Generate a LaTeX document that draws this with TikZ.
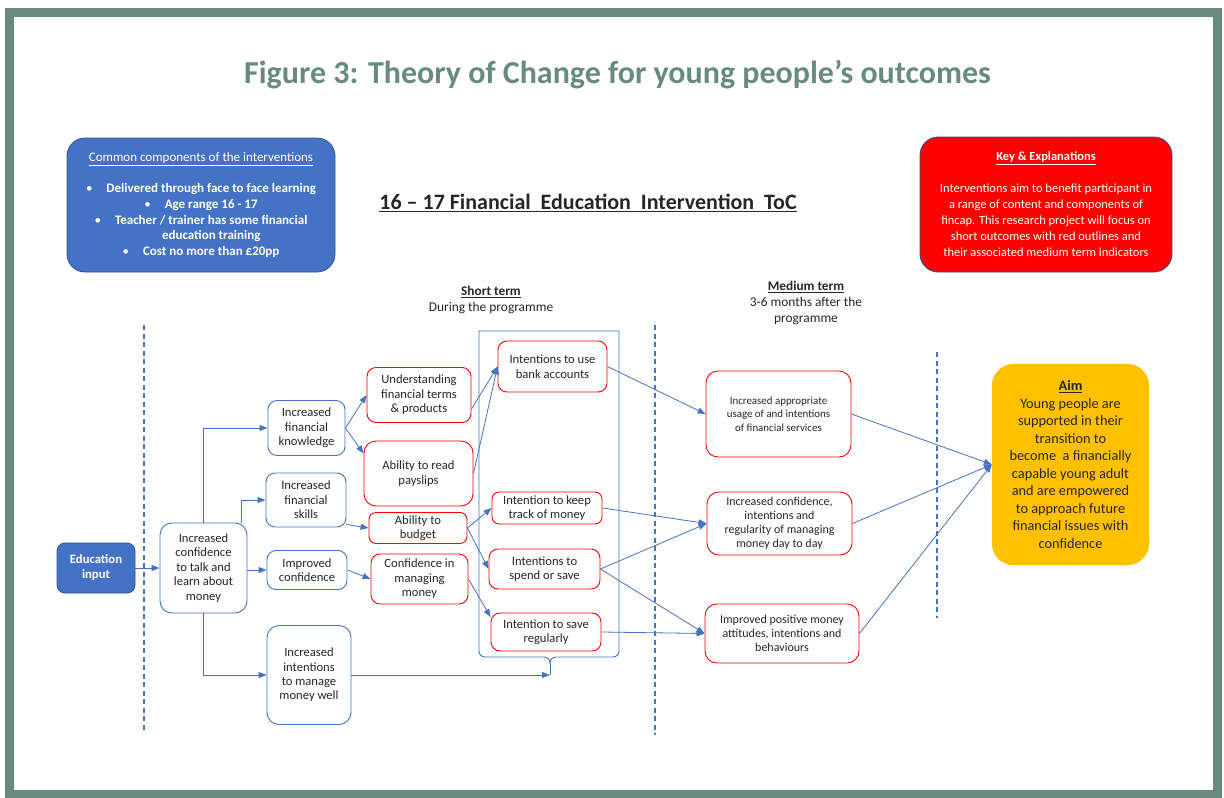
\documentclass[tikz,border=0pt]{standalone}
\usepackage{fontspec}
\setmainfont{Carlito}
\usetikzlibrary{arrows.meta}
\definecolor{tblue}{HTML}{4472C4}
\definecolor{tdark}{HTML}{2F528F}
\definecolor{tred}{HTML}{FF0000}
\definecolor{tgold}{HTML}{FFC000}
\definecolor{tgreen}{HTML}{688B7D}
\definecolor{ttext}{HTML}{262626}
\tikzset{
  lbox/.style={draw=tblue, line width=0.9pt, rounded corners=9pt, fill=white, align=center, text=ttext, inner sep=1pt, font=\fontsize{12.6}{14.4}\selectfont},
  rbox/.style={lbox, draw=tred},
  mbox/.style={rbox, rounded corners=12pt},
  flow/.style={tblue, line width=0.8pt, -{Triangle[length=8pt,width=6pt]}},
  sepline/.style={tblue, line width=2.2pt, dash pattern=on 5pt off 3.5pt},
  hdr/.style={font=\fontsize{13.3}{15}\selectfont\bfseries, text=ttext},
  sub/.style={font=\fontsize{13.4}{15.8}\selectfont, text=ttext, align=center},
}
\begin{document}
\begin{tikzpicture}[x=1pt,y=-1pt]
\useasboundingbox (0,0) rectangle (1224,798);
\draw[tgreen, line width=9pt] (9.5,12.5) rectangle (1217,794);
\node[text=tgreen, font=\fontsize{32}{36}\selectfont\bfseries] (title) at (617.5,75) {Figure 3: Theory of Change for young people’s outcomes};
\node[font=\fontsize{22}{26}\selectfont\bfseries, text=ttext] (toc) at (588,203) {\underline{16 – 17 Financial\ \ Education\ \ Intervention\ \ ToC}};
% top boxes
\node[draw=tdark, fill=tblue, rounded corners=18pt, line width=0.8pt, minimum width=268pt, minimum height=134pt, text=white, align=center, font=\fontsize{13}{15.7}\selectfont] (common) at (201,205)
  {\underline{Common components of the interventions}\\[15.7pt]
   •\hspace{14pt}\textbf{Delivered through face to face learning}\\
   •\hspace{14pt}\textbf{Age range 16 - 17}\\
   •\hspace{14pt}\textbf{Teacher / trainer has some financial}\\
   \hphantom{•\hspace{14pt}}\textbf{education training}\\
   •\hspace{14pt}\textbf{Cost no more than £20pp}};
\node[draw=tdark, fill=tred, rounded corners=18pt, line width=0.8pt, minimum width=252pt, minimum height=135pt, text=white, align=center, font=\fontsize{12.5}{16}\selectfont] (key) at (1046,204.5)
  {\textbf{\underline{Key \& Explanations}}\\[16pt]
   Interventions aim to benefit participant in\\
   a range of content and components of\\
   fincap. This research project will focus on\\
   short outcomes with red outlines and\\
   their associated medium term indicators};
% time labels
\node[hdr] (shortlbl) at (491,292) {\underline{Short term}};
\node[sub] (shortsub) at (491,308) {During the programme};
\node[hdr] (medlbl) at (806,287) {\underline{Medium term}};
\node[sub] (medsub) at (806,311) {3-6 months after the\\programme};
% separators
\draw[sepline] (144,325) -- (144,732);
\draw[sepline] (655,325) -- (655,735);
\draw[sepline] (937,352) -- (937,618);
% bracket round the short term intentions
\coordinate (bracetip) at (550,675);
\draw[tblue, line width=0.9pt] (479,331) -- (619,331) -- (619,651) to[out=-90,in=0] (613,657) -- (556,657) to[out=180,in=90] (550,663) to[out=90,in=0] (544,657) -- (485,657) to[out=180,in=-90] (479,651) -- cycle;
\draw[tblue, line width=0.9pt] (550,663) -- (bracetip);
% nodes
\node[draw=tdark, fill=tblue, rounded corners=8pt, line width=0.8pt, minimum width=78pt, minimum height=50pt, text=white, align=center, font=\fontsize{12.7}{15}\selectfont\bfseries] (edu) at (96,568) {Education\\input};
\node[lbox, minimum width=87pt, minimum height=90pt, rounded corners=12pt] (conf) at (203.5,568) {Increased\\confidence\\to talk and\\learn about\\money};
\node[lbox, minimum width=77pt, minimum height=55pt] (know) at (306.5,428) {Increased\\financial\\knowledge};
\node[lbox, minimum width=80pt, minimum height=54pt] (skills) at (306,500) {Increased\\financial\\skills};
\node[lbox, minimum width=80pt, minimum height=39pt] (impconf) at (307,570) {Improved\\confidence};
\node[lbox, minimum width=84pt, minimum height=99pt, rounded corners=12pt] (manage) at (309,675) {Increased\\intentions\\to manage\\money well};
\node[rbox, minimum width=104pt, minimum height=55pt] (underst) at (419,395) {Understanding\\financial terms\\\& products};
\node[rbox, minimum width=109pt, minimum height=65pt, rounded corners=12pt] (payslips) at (418.5,473.5) {Ability to read\\payslips};
\node[rbox, minimum width=98pt, minimum height=31pt, rounded corners=7pt] (budget) at (418,528) {Ability to\\budget};
\node[rbox, minimum width=97pt, minimum height=50pt] (confmng) at (419.5,579) {Confidence in\\managing\\money};
\node[rbox, minimum width=109pt, minimum height=51pt] (bank) at (552.5,366.5) {Intentions to use\\bank accounts};
\node[rbox, minimum width=110pt, minimum height=32pt, rounded corners=7pt] (track) at (547,508) {Intention to keep\\track of money};
\node[rbox, minimum width=111pt, minimum height=40pt] (spend) at (544.5,569) {Intentions to\\spend or save};
\node[rbox, minimum width=110pt, minimum height=38pt] (save) at (546,632) {Intention to save\\regularly};
\node[mbox, minimum width=145pt, minimum height=86pt, font=\fontsize{10.9}{13.3}\selectfont] (usage) at (778.5,414) {Increased appropriate\\usage of and intentions\\of financial services};
\node[mbox, minimum width=145pt, minimum height=63pt, font=\fontsize{12}{14}\selectfont] (mconf) at (779.5,523.5) {Increased confidence,\\intentions and\\regularity of managing\\money day to day};
\node[mbox, minimum width=154pt, minimum height=59pt, font=\fontsize{12}{14}\selectfont] (positive) at (782,633.5) {Improved positive money\\attitudes, intentions and\\behaviours};
\node[draw=tgold, fill=tgold, rounded corners=22pt, minimum width=157pt, minimum height=201pt, align=center, text=ttext, font=\fontsize{14.3}{17.5}\selectfont] (aim) at (1070.5,464.5)
  {\textbf{\underline{Aim}}\\Young people are\\supported in their\\transition to\\become\ \ a financially\\capable young adult\\and are empowered\\to approach future\\financial issues with\\confidence};
% connectors
\draw[flow] (edu) -- (conf);
\draw[flow] (conf.north) |- (know.west);
\draw[flow] ([xshift=-6pt]conf.north east) |- (skills.west);
\draw[flow] (conf.east |- impconf.west) -- (impconf.west);
\draw[flow] (conf.south) |- (manage.west);
\draw[flow] (know.east) -- (underst.west);
\draw[flow] (know.east) -- (payslips.160);
\draw[flow] ([yshift=3pt]skills.south east) -- (budget.west);
\draw[flow] (impconf.east) -- (confmng.west);
\draw[flow] (underst.-15) -- (bank.west);
\draw[flow] (payslips.east) -- (bank.west);
\draw[flow] (budget.east) -- (track.west);
\draw[flow] (budget.east) -- (spend.west);
\draw[flow] (confmng.east) -- (save.165);
\draw[flow] (manage.east) -- (bracetip);
\draw[flow] (bank.east) -- (usage.west);
\draw[flow] (track.east) -- (mconf.west);
\draw[flow] (spend.east) -- (mconf.west);
\draw[flow] (spend.east) -- (positive.west);
\draw[flow] (save.east) -- (positive.west);
\draw[flow] (usage.east) -- (aim.west);
\draw[flow] (mconf.east) -- (aim.west);
\draw[flow] (positive.east) -- (aim.west);
\end{tikzpicture}
\end{document}
